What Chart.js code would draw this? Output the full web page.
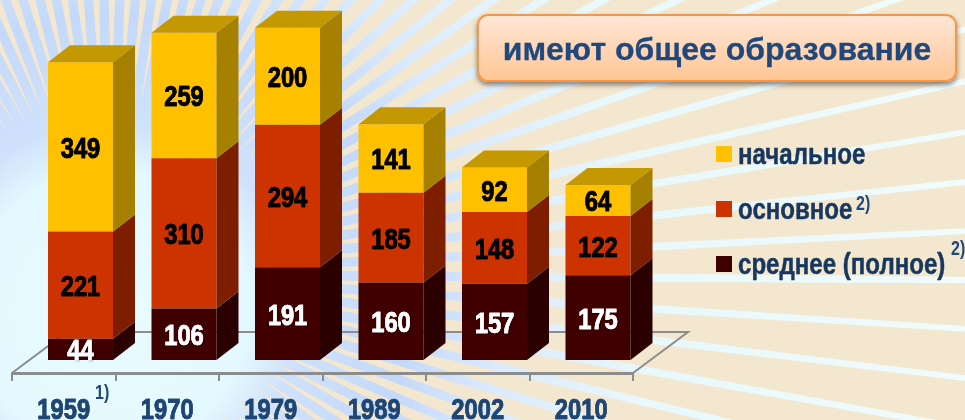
<!DOCTYPE html>
<html>
<head>
<meta charset="utf-8">
<style>
  html, body { margin: 0; padding: 0; width: 965px; height: 420px; overflow: hidden; background: #f3e7d0; }
  #wrap { position: relative; width: 965px; height: 420px; overflow: hidden; }
  canvas { position: absolute; left: 0; top: 0; }
  .title {
    position: absolute; left: 477px; top: 14px; width: 476px; height: 64px;
    border: 2px solid #f79646; border-radius: 11px; text-align: center;
    background: linear-gradient(#ffe6d6, #ffc795);
    box-shadow: 0 3px 5px rgba(0,0,0,.45);
    font: bold 32px/66px "Liberation Sans", sans-serif; color: #1f497d;
    -webkit-text-stroke: .3px #1f497d;
  }
  .swatch { position: absolute; left: 716px; width: 16px; height: 16px; }
  .item {
    position: absolute; left: 738px; white-space: nowrap;
    font: bold 29px/30px "Liberation Sans", sans-serif; color: #17375e;
    transform: scaleX(.83); transform-origin: left center;
    -webkit-text-stroke: .5px #17375e;
  }
  .note {
    position: absolute; font: bold 20px/20px "Liberation Sans", sans-serif; color: #1f497d;
    transform: scaleX(.8); transform-origin: left center;
  }
</style>
</head>
<body>
<div id="wrap">
  <canvas id="eduChart" width="965" height="420"></canvas>
  <div class="title">имеют общее образование</div>
  <div id="legend"></div>
  <div class="note" style="left:95px;top:382px">1)</div>
  <div class="note" style="left:856px;top:193px">2)</div>
  <div class="note" style="left:951px;top:238px">2)</div>
</div>
<script src="https://cdn.jsdelivr.net/npm/chart.js@4"></script>
<script>
const years = ['1959', '1970', '1979', '1989', '2002', '2010'];
const secondary = [44, 106, 191, 160, 157, 175];
const basic = [221, 310, 294, 185, 148, 122];
const primary = [349, 259, 200, 141, 92, 64];

const legendNames = ['начальное', 'основное', 'среднее (полное)'];
const legendColors = ['#ffc000', '#cc3300', '#400000'];
const legendTops = [146, 201, 256];

const labelFont = 'bold 29px "Liberation Sans", sans-serif';
const narrow = 0.82; // the source uses a narrow face, not installed here
const axisColor = '#8c8c8c';

// how far the front of each box sits from the floor's front edge, and the box depth
const shiftX = 16.75, shiftY = -13;
const depthX = 22, depthY = -17;

// legend
const legendEl = document.getElementById('legend');
legendNames.forEach((name, i) => {
  legendEl.insertAdjacentHTML('beforeend',
    `<div class="swatch" style="top:${legendTops[i]}px;background:${legendColors[i]}"></div>` +
    `<div class="item" style="top:${legendTops[i] - 7}px">${name}</div>`);
});

function narrowText(ctx, text, x, y) {
  ctx.save();
  ctx.translate(x, y);
  ctx.scale(narrow, 1);
  ctx.lineWidth = 0.6;
  ctx.strokeStyle = ctx.fillStyle;
  ctx.strokeText(text, 0, 0);
  ctx.shadowColor = 'transparent';
  ctx.strokeText(text, 0, 0);
  ctx.fillText(text, 0, 0);
  ctx.restore();
}

// rays behind the chart
const raysPlugin = {
  id: 'rays',
  beforeDraw(chart) {
    const ctx = chart.ctx;
    const cx = 110, cy = 274;
    ctx.save();
    ctx.fillStyle = '#f3e7d0';
    ctx.fillRect(0, 0, 965, 420);
    const g = ctx.createRadialGradient(110, 310, 0, 110, 310, 900);
    g.addColorStop(0, '#e8fdff');
    g.addColorStop(0.155, '#e4f8ff');
    g.addColorStop(0.21, '#cfe1fb');
    g.addColorStop(0.33, '#c4d9fa');
    g.addColorStop(0.44, '#dcebfc');
    g.addColorStop(0.6, '#e8f8fb');
    g.addColorStop(1, '#f2fcfb');
    ctx.fillStyle = g;
    for (let a = 0.4; a < 360.4; a += 360 / 110) {
      const t = a * Math.PI / 180;
      const nx = -Math.sin(t), ny = Math.cos(t);
      const w0 = 5.5, w1 = 2.5; // half widths at the centre and far end
      ctx.beginPath();
      ctx.moveTo(cx + nx * w0, cy + ny * w0);
      ctx.lineTo(cx + 1000 * Math.cos(t) + nx * w1, cy + 1000 * Math.sin(t) + ny * w1);
      ctx.lineTo(cx + 1000 * Math.cos(t) - nx * w1, cy + 1000 * Math.sin(t) - ny * w1);
      ctx.lineTo(cx - nx * w0, cy - ny * w0);
      ctx.closePath();
      ctx.fill();
    }
    ctx.restore();
  }
};

const boxPlugin = {
  id: 'box',
  beforeDatasetsDraw(chart) {
    const ctx = chart.ctx;
    const { left, right, bottom } = chart.chartArea;
    // floor
    ctx.save();
    ctx.strokeStyle = axisColor;
    ctx.lineWidth = 2;
    ctx.beginPath();
    ctx.moveTo(left, bottom);
    ctx.lineTo(left + 55, bottom - 41);
    ctx.lineTo(right + 55, bottom - 41);
    ctx.lineTo(right, bottom);
    ctx.stroke();
    ctx.restore();
    // bars are drawn by the library inside this shift, closed in afterDatasetsDraw
    ctx.save();
    ctx.translate(shiftX, shiftY);
  },
  afterDatasetsDraw(chart) {
    const ctx = chart.ctx;
    const last = chart.data.datasets.length - 1;
    chart.data.datasets.forEach((ds, d) => {
      chart.getDatasetMeta(d).data.forEach(bar => {
        const { x, y, base, width } = bar.getProps(['x', 'y', 'base', 'width'], true);
        const r = x + width / 2, l = x - width / 2;
        ctx.fillStyle = ds.sideColor;
        ctx.beginPath();
        ctx.moveTo(r, base);
        ctx.lineTo(r + depthX, base + depthY);
        ctx.lineTo(r + depthX, y + depthY);
        ctx.lineTo(r, y);
        ctx.closePath();
        ctx.fill();
        if (d === last) {
          ctx.fillStyle = ds.topColor;
          ctx.beginPath();
          ctx.moveTo(l, y);
          ctx.lineTo(l + depthX, y + depthY);
          ctx.lineTo(r + depthX, y + depthY);
          ctx.lineTo(r, y);
          ctx.closePath();
          ctx.fill();
        }
      });
    });
    // value labels
    ctx.font = labelFont;
    ctx.textAlign = 'center';
    ctx.textBaseline = 'middle';
    chart.data.datasets.forEach((ds, d) => {
      chart.getDatasetMeta(d).data.forEach((bar, i) => {
        const { x, y, base } = bar.getProps(['x', 'y', 'base'], true);
        ctx.save();
        if (ds.labelColor === '#ffffff') {
          ctx.shadowColor = 'rgba(0,0,0,.6)';
          ctx.shadowOffsetX = 1;
          ctx.shadowOffsetY = 1;
          ctx.shadowBlur = 1;
        }
        ctx.fillStyle = ds.labelColor;
        narrowText(ctx, ds.data[i], x, (y + base) / 2 + 3);
        ctx.restore();
      });
    });
    ctx.restore();

    // year labels, narrow so not through ticks.font
    const xScale = chart.scales.x;
    ctx.save();
    ctx.font = labelFont;
    ctx.fillStyle = '#1f4572';
    ctx.textAlign = 'center';
    ctx.textBaseline = 'alphabetic';
    years.forEach((year, i) => narrowText(ctx, year, xScale.getPixelForTick(i), 418.5));
    ctx.restore();
  }
};

new Chart(document.getElementById('eduChart').getContext('2d'), {
  type: 'bar',
  data: {
    labels: years,
    datasets: [
      { label: legendNames[2], data: secondary, backgroundColor: '#400000', sideColor: '#2b0000', labelColor: '#ffffff', clip: false },
      { label: legendNames[1], data: basic, backgroundColor: '#cc3300', sideColor: '#7d1e00', labelColor: '#000000', clip: false },
      { label: legendNames[0], data: primary, backgroundColor: '#ffc000', sideColor: '#a68000', topColor: '#c49800', labelColor: '#000000', clip: false }
    ]
  },
  options: {
    responsive: false,
    animation: false,
    layout: { padding: { left: 12, right: 332, top: 33.5, bottom: 0 } },
    categoryPercentage: 0.628,
    barPercentage: 1,
    plugins: { legend: { display: false }, tooltip: { enabled: false } },
    scales: {
      x: {
        stacked: true,
        afterFit(scale) { scale.height = 47; },
        border: { color: axisColor, width: 3 },
        grid: { drawOnChartArea: false, color: axisColor, lineWidth: 2, tickLength: 8 },
        ticks: { display: false }
      },
      y: { stacked: true, display: false, min: 0, max: 700 }
    }
  },
  plugins: [raysPlugin, boxPlugin]
});
</script>
</body>
</html>
